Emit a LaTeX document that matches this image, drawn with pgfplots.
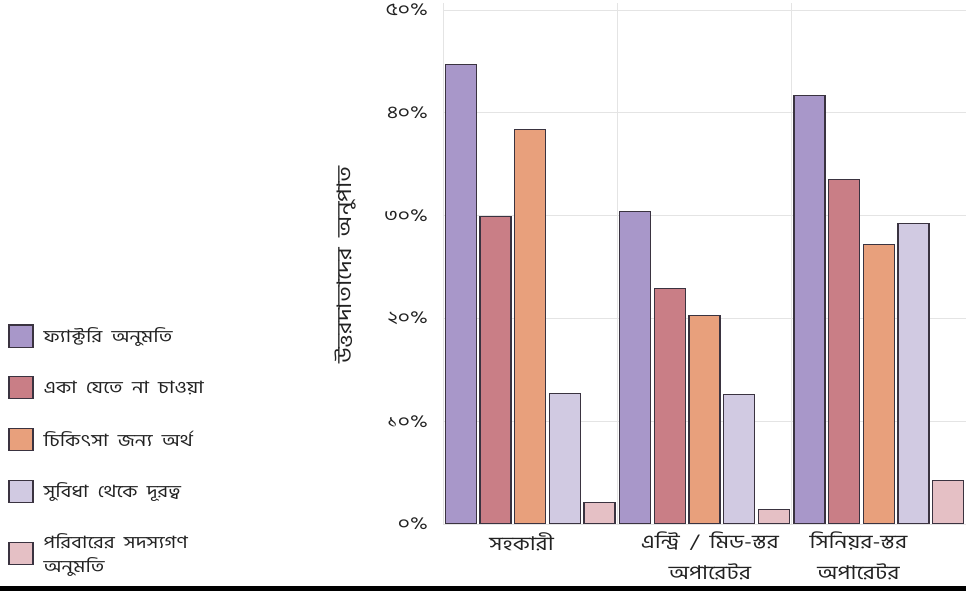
\documentclass[border=0pt]{standalone}
\usepackage{pgfplots}
\pgfplotsset{compat=1.18}
\usepackage{fontspec}
\setmainfont[Script=Bengali, FakeStretch=1.2, WordSpace=2]{Hind Siliguri}
\definecolor{cA}{HTML}{A897C9}
\definecolor{cB}{HTML}{C97E86}
\definecolor{cC}{HTML}{E8A07C}
\definecolor{cD}{HTML}{D1CAE2}
\definecolor{cE}{HTML}{E5C0C5}
\definecolor{edge}{HTML}{3A3340}
\definecolor{gridc}{HTML}{E4E4E4}
\definecolor{txt}{HTML}{222222}
\begin{document}
\begin{tikzpicture}[x=1pt,y=1pt]
\useasboundingbox (0,0) rectangle (966,591);
\fill[black] (0,0) rectangle (966,5);
\begin{axis}[
  at={(443pt,67pt)}, anchor=south west,
  scale only axis, width=523pt, height=521.2pt,
  xmin=-0.5, xmax=2.5, ymin=0, ymax=50.7,
  axis line style={draw=none},
  major tick length=0pt,
  ytick={0,10,20,30,40,50},
  yticklabels={০\%,১০\%,২০\%,৩০\%,৪০\%,৫০\%},
  yticklabel style={font=\fontsize{17.5}{19}\selectfont, text=txt, inner sep=0pt, xshift=-15pt},
  ymajorgrids, major grid style={gridc, line width=0.9pt},
  xtick={-0.049,1.031,1.883},
  xticklabels={সহকারী, {এন্ট্রি / মিড-স্তর\\অপারেটর}, {সিনিয়র-স্তর\\অপারেটর}},
  xticklabel style={align=center, font=\fontsize{19}{31}\selectfont, text=txt, anchor=north, inner sep=0pt, yshift=-8pt},
  extra x ticks={-0.5,0.5,1.5}, extra x tick labels={},
  extra x tick style={grid=major, major grid style={gridc, line width=0.9pt}},
  ybar, bar width=0.178,
  ylabel={উত্তরদাতাদের অনুপাত},
  every axis y label/.style={at={(axis description cs:-0.187,0.497)}, rotate=90, anchor=center, font=\fontsize{20}{22}\selectfont, text=txt},
  legend style={at={(axis description cs:-0.837,0.387)}, anchor=north west, draw=none, fill=none,
    font=\fontsize{17}{24}\selectfont, text=txt, row sep=28.5pt, column sep=8pt, cells={anchor=west, align=left}},
  legend image code/.code={\draw[#1, draw=edge, line width=1.2pt] (0pt,-11pt) rectangle (24pt,11pt);},
  legend cell align=left,
]
\addplot[fill=cA, draw=edge, line width=1.2pt, bar shift=-0.398] coordinates {(0,44.7) (1,30.4) (2,41.7)};
\addlegendentry{ফ্যাক্টরি অনুমতি}
\addplot[fill=cB, draw=edge, line width=1.2pt, bar shift=-0.199] coordinates {(0,29.9) (1,22.9) (2,33.5)};
\addlegendentry{একা যেতে না চাওয়া}
\addplot[fill=cC, draw=edge, line width=1.2pt, bar shift=0] coordinates {(0,38.4) (1,20.3) (2,27.2)};
\addlegendentry{চিকিৎসা জন্য অর্থ}
\addplot[fill=cD, draw=edge, line width=1.2pt, bar shift=0.199] coordinates {(0,12.7) (1,12.6) (2,29.2)};
\addlegendentry{সুবিধা থেকে দূরত্ব}
\addplot[fill=cE, draw=edge, line width=1.2pt, bar shift=0.398] coordinates {(0,2.1) (1,1.4) (2,4.2)};
\addlegendentry{পরিবারের সদস্যগণ\\অনুমতি}
\end{axis}
\end{tikzpicture}
\end{document}
